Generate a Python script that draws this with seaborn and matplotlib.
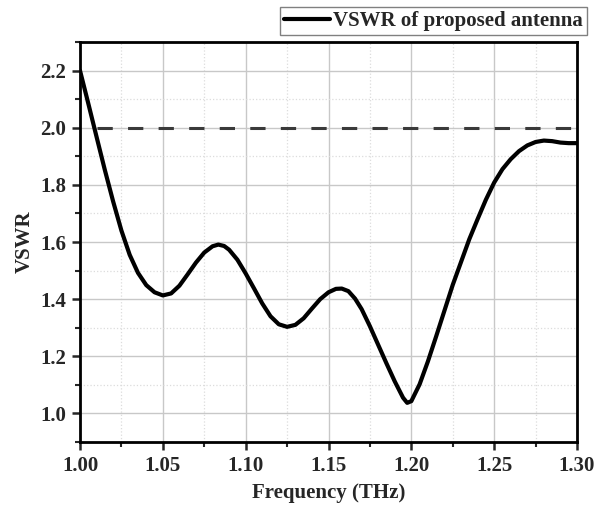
import numpy as np
import pandas as pd
import matplotlib
matplotlib.use("Agg")
import matplotlib.pyplot as plt
from matplotlib.ticker import MultipleLocator
import seaborn as sns

# valores (frequencia em THz, VSWR)
freq = [1.000, 1.005, 1.010, 1.015, 1.020, 1.025, 1.030, 1.035, 1.040, 1.045,
        1.050, 1.055, 1.060, 1.065, 1.070, 1.075, 1.080, 1.0835, 1.087, 1.090,
        1.095, 1.100, 1.105, 1.110, 1.115, 1.120, 1.125, 1.130, 1.135, 1.140,
        1.145, 1.150, 1.1545, 1.158, 1.162, 1.166, 1.170, 1.175, 1.180, 1.185,
        1.190, 1.195, 1.1975, 1.200, 1.205, 1.210, 1.215, 1.220, 1.225, 1.230,
        1.235, 1.240, 1.245, 1.250, 1.255, 1.260, 1.265, 1.270, 1.275, 1.280,
        1.285, 1.290, 1.295, 1.300]
vswr = [2.200, 2.085, 1.968, 1.852, 1.742, 1.640, 1.555, 1.492, 1.449, 1.424,
        1.413, 1.420, 1.447, 1.487, 1.528, 1.563, 1.585, 1.591, 1.586, 1.573,
        1.538, 1.490, 1.438, 1.385, 1.340, 1.312, 1.303, 1.310, 1.333, 1.367,
        1.400, 1.424, 1.436, 1.437, 1.428, 1.402, 1.365, 1.305, 1.240, 1.175,
        1.112, 1.055, 1.037, 1.043, 1.102, 1.182, 1.270, 1.360, 1.450, 1.530,
        1.610, 1.680, 1.748, 1.808, 1.855, 1.890, 1.918, 1.938, 1.950, 1.955,
        1.953, 1.948, 1.946, 1.946]

# limite VSWR = 2
limite_x = [1.01, 1.30]
limite_y = [2.0, 2.0]

df = pd.DataFrame({"Frequency": freq, "VSWR": vswr})

sns.set_style("ticks")
plt.rcParams["font.family"] = ["Liberation Serif", "DejaVu Serif"]
plt.rcParams["font.weight"] = "bold"

fig = plt.figure(figsize=(6.09, 5.07), dpi=100)
ax = fig.add_axes([80 / 609, 1 - 442 / 507, 497 / 609, 400 / 507])

ax.plot(limite_x, limite_y, color="#3a3a3a", lw=2.2, dashes=(5, 5), zorder=3)
sns.lineplot(data=df, x="Frequency", y="VSWR", color="black", lw=3,
             label="VSWR of proposed antenna", ax=ax, zorder=4, legend=False,
             solid_joinstyle="round", solid_capstyle="round")

ax.set_xlim(1.0, 1.3)
ax.set_ylim(0.9, 2.3)
ax.xaxis.set_minor_locator(MultipleLocator(0.025))
ax.yaxis.set_minor_locator(MultipleLocator(0.1))
ax.set_xticks(np.arange(1.0, 1.301, 0.05))
ax.set_xticklabels([f"{v:.2f}" for v in np.arange(1.0, 1.301, 0.05)])
ax.set_yticks(np.arange(1.0, 2.21, 0.2))
ax.set_yticklabels([f"{v:.1f}" for v in np.arange(1.0, 2.21, 0.2)])

ax.grid(which="major", color="#c8c8c8", lw=1.0, ls="-")
ax.grid(which="minor", color="#dcdcdc", lw=0.9, ls=":")
ax.set_axisbelow(True)

for s in ax.spines.values():
    s.set_linewidth(2.0)
    s.set_color("black")

ax.tick_params(which="major", direction="out", length=6, width=1.8,
               labelsize=15, pad=4)
ax.tick_params(which="minor", direction="out", length=3.5, width=1.5)
for lbl in ax.get_xticklabels() + ax.get_yticklabels():
    lbl.set_fontweight("bold")

ax.set_xlabel("Frequency (THz)", fontsize=15, fontweight="bold", labelpad=5)
ax.set_ylabel("VSWR", fontsize=15, fontweight="bold", labelpad=4)

handles, labels = ax.get_legend_handles_labels()
leg = fig.legend(handles, labels, loc="upper right",
                 bbox_to_anchor=(587 / 609, 1 - 7 / 507),
                 frameon=True, fancybox=False, framealpha=1,
                 edgecolor="#808080", handlelength=2.2, handletextpad=0.15,
                 borderpad=0.2, borderaxespad=0,
                 prop={"size": 15, "weight": "bold"})
leg.get_frame().set_linewidth(1.0)

fig.savefig("out.png", dpi=100)
